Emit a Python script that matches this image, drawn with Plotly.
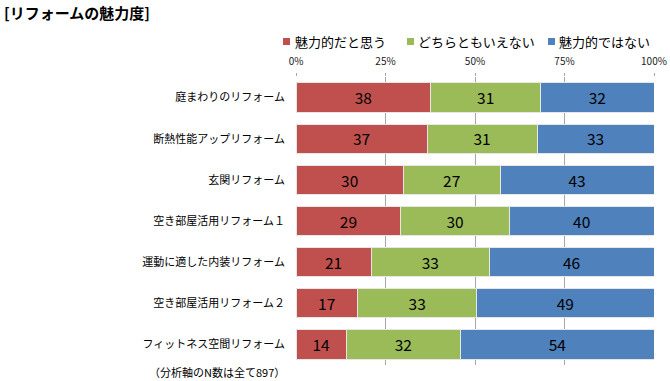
import plotly.graph_objects as go

categories = ["庭まわりのリフォーム", "断熱性能アップリフォーム", "玄関リフォーム",
              "空き部屋活用リフォーム１", "運動に適した内装リフォーム",
              "空き部屋活用リフォーム２", "フィットネス空間リフォーム"]
series_names = ["魅力的だと思う", "どちらともいえない", "魅力的ではない"]
attractive = [38, 37, 30, 29, 21, 17, 14]
neutral = [31, 31, 27, 30, 33, 33, 32]
not_attractive = [32, 33, 43, 40, 46, 49, 54]
tick_vals = [0, 25, 50, 75, 100]
tick_labels = ["0%", "25%", "50%", "75%", "100%"]

colors = ["#C0504D", "#9BBB59", "#4F81BD"]
font = "Noto Sans CJK JP, Noto Sans, sans-serif"

W, H = 670, 381
L, R, T, B = 296, 16, 77, 16
PW, PH = W - L - R, H - T - B


def px(x):
    return (x - L) / PW


def py(y):
    return (H - B - y) / PH


fig = go.Figure()
for name, vals, col in zip(series_names, [attractive, neutral, not_attractive], colors):
    fig.add_trace(go.Bar(
        y=categories, x=vals, name=name, orientation="h",
        marker=dict(color=col, line=dict(color="#E6E6E6", width=1)),
        text=[str(v) for v in vals], textposition="inside", insidetextanchor="middle",
        textangle=0,
        textfont=dict(size=16, color="black", family=font),
        hoverinfo="skip", showlegend=False,
    ))

fig.update_layout(
    width=W, height=H,
    barmode="stack", barnorm="percent", bargap=0.29,
    plot_bgcolor="white", paper_bgcolor="white",
    margin=dict(l=L, r=R, t=T, b=B, autoexpand=False),
    font=dict(family=font, color="black"),
    showlegend=False,
)
fig.update_xaxes(side="top", range=[0, 100], tickvals=tick_vals, ticktext=tick_labels,
                 showgrid=True, gridcolor="#A6A6A6", gridwidth=1,
                 ticks="outside", ticklen=3, tickcolor="#A6A6A6",
                 ticklabelstandoff=4,
                 tickfont=dict(size=10, family=font, color="#222222"),
                 zeroline=False, showline=False, fixedrange=True, automargin=False)
fig.update_yaxes(autorange="reversed", tickfont=dict(size=11, family=font, color="black"),
                 ticks="", ticklabelstandoff=10, showline=False, fixedrange=True,
                 automargin=False)

# custom legend: small squares + labels
legend_sq_x = [283, 407, 548]
legend_txt_x = [293, 416, 557]
legend_y = 41.5
for sx, tx, name, col in zip(legend_sq_x, legend_txt_x, series_names, colors):
    fig.add_shape(type="rect", xref="paper", yref="paper",
                  x0=px(sx), x1=px(sx + 7), y0=py(legend_y - 3.5), y1=py(legend_y + 3.5),
                  fillcolor=col, line=dict(width=0))
    fig.add_annotation(text=name, xref="paper", yref="paper", x=px(tx), y=py(legend_y),
                       xanchor="left", yanchor="middle", showarrow=False,
                       font=dict(size=13, family=font, color="black"))

fig.add_annotation(text="[リフォームの魅力度]", xref="paper", yref="paper",
                   x=px(2), y=py(13), xanchor="left", yanchor="middle",
                   showarrow=False, font=dict(size=15, family=font, color="black", weight="bold"))
fig.add_annotation(text="（分析軸のN数は全て897）", xref="paper", yref="paper",
                   x=px(287), y=py(372), xanchor="right", yanchor="middle",
                   showarrow=False, font=dict(size=11, family=font, color="black"))

fig.write_html("out.html", config={"displayModeBar": False},
               post_script="document.body.style.margin='0';")
